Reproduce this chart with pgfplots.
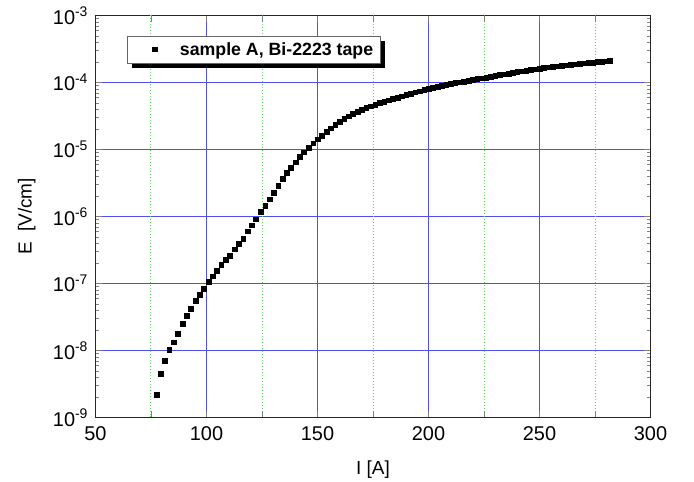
\documentclass[border=0pt]{standalone}
\usepackage{fontspec}
\setmainfont{Liberation Sans}
\usepackage{pgfplots}
\pgfplotsset{compat=1.18}
\usetikzlibrary{shadows,calc}

\definecolor{gridblue}{RGB}{80,80,240}
\definecolor{gridgreen}{RGB}{90,215,90}

\begin{document}
\begin{tikzpicture}
\begin{axis}[
    name=ax,
    scale only axis,
    width=555bp, height=402bp,
    xmin=50, xmax=300,
    ymode=log, log basis y=10,
    ymin=1e-9, ymax=1e-3,
    xtick={50,100,150,200,250,300},
    extra x ticks={75,125,175,225,275},
    extra x tick labels={},
    extra x tick style={grid=major, major grid style={draw=gridgreen, dotted, line width=1bp}},
    xmajorgrids, ymajorgrids,
    major grid style={draw=gridblue, solid, line width=1bp},
    tick align=inside,
    major tick length=7bp,
    minor tick length=4bp,
    axis line style={black!85, line width=1.1pt},
    /pgf/number format/assume math mode=true,
    tick label style={font=\fontsize{20}{24}\selectfont},
    xticklabel style={yshift=-6pt},
    yticklabel style={xshift=-4pt},
    yticklabel={10\textsuperscript{\pgfmathparse{int(round(\tick))}\pgfmathresult}},
    xlabel={I [A]},
    ylabel={E\ \ [V/cm]},
    label style={font=\fontsize{19}{23}\selectfont},
    xlabel style={at={(axis description cs:0.5,-0.1423)}, anchor=base},
    ylabel style={at={(axis description cs:-0.1153,0.5)}, anchor=base, rotate=0},
    legend style={
        at={(rel axis cs:0.0559,0.950)}, anchor=north west,
        draw=black!60, line width=0.7pt,
        inner xsep=5pt, inner ysep=4.4pt,
        nodes={inner sep=2pt},
        font=\fontsize{17.8}{21}\selectfont\bfseries,
        drop shadow={shadow xshift=5pt, shadow yshift=-5pt, fill=black, opacity=1},
        cells={anchor=west},
    },
    legend image code/.code={\path (0pt,0pt) (45.6pt,0pt); \draw[#1, only marks] plot coordinates {(23pt,0pt)};},
]
\addplot[only marks, mark=square*, mark size=2.35pt, black] table[x=I, y=E] {
I      E
77.5   2.19e-9
79.3   4.47e-9
81.1   7.00e-9
83.2   1.02e-8
85.1   1.33e-8
87.1   1.78e-8
89.3   2.51e-8
91.0   3.31e-8
92.9   4.22e-8
95.0   5.50e-8
97.0   6.76e-8
98.8   8.32e-8
100.9  1.07e-7
102.7  1.29e-7
104.6  1.55e-7
106.6  1.91e-7
108.7  2.24e-7
110.5  2.63e-7
112.6  3.24e-7
114.4  3.89e-7
116.5  4.68e-7
118.5  6.03e-7
120.4  7.41e-7
122.3  9.12e-7
124.5  1.17e-6
126.4  1.45e-6
128.4  1.82e-6
130.3  2.29e-6
132.3  2.88e-6
134.2  3.63e-6
136.0  4.47e-6
138.0  5.37e-6
140.1  6.46e-6
142.0  7.76e-6
143.8  9.12e-6
146.0  1.07e-5
148.0  1.245e-5
150    1.43e-5
152    1.62e-5
154    1.84e-5
156    2.07e-5
158    2.32e-5
160    2.57e-5
162    2.85e-5
164    3.13e-5
166    3.39e-5
168    3.63e-5
170    3.89e-5
172    4.17e-5
174    4.42e-5
176    4.68e-5
178    4.95e-5
180    5.19e-5
182    5.43e-5
184    5.69e-5
186    5.96e-5
188    6.24e-5
190    6.53e-5
192    6.84e-5
194    7.16e-5
196    7.41e-5
198    7.76e-5
200    8.04e-5
202    8.32e-5
204    8.61e-5
206    8.91e-5
208    9.23e-5
210    9.55e-5
212    9.89e-5
214    1.01e-4
216    1.035e-4
218    1.07e-4
220    1.10e-4
222    1.127e-4
224    1.159e-4
226    1.191e-4
228    1.225e-4
230    1.259e-4
232    1.294e-4
234    1.330e-4
236    1.365e-4
238    1.400e-4
240    1.436e-4
242    1.472e-4
244    1.507e-4
246    1.545e-4
248    1.585e-4
250    1.622e-4
252    1.652e-4
254    1.683e-4
256    1.714e-4
258    1.746e-4
260    1.778e-4
262    1.811e-4
264    1.841e-4
266    1.871e-4
268    1.901e-4
270    1.932e-4
272    1.963e-4
274    1.995e-4
276    2.023e-4
278    2.051e-4
280    2.080e-4
281.5  2.104e-4
};
\addlegendentry{sample A, Bi-2223 tape}
\end{axis}
\path ($(ax.south west)+(-95.5bp,-64.5bp)$) rectangle ($(ax.north east)+(43.5bp,15.5bp)$);
\end{tikzpicture}
\end{document}
